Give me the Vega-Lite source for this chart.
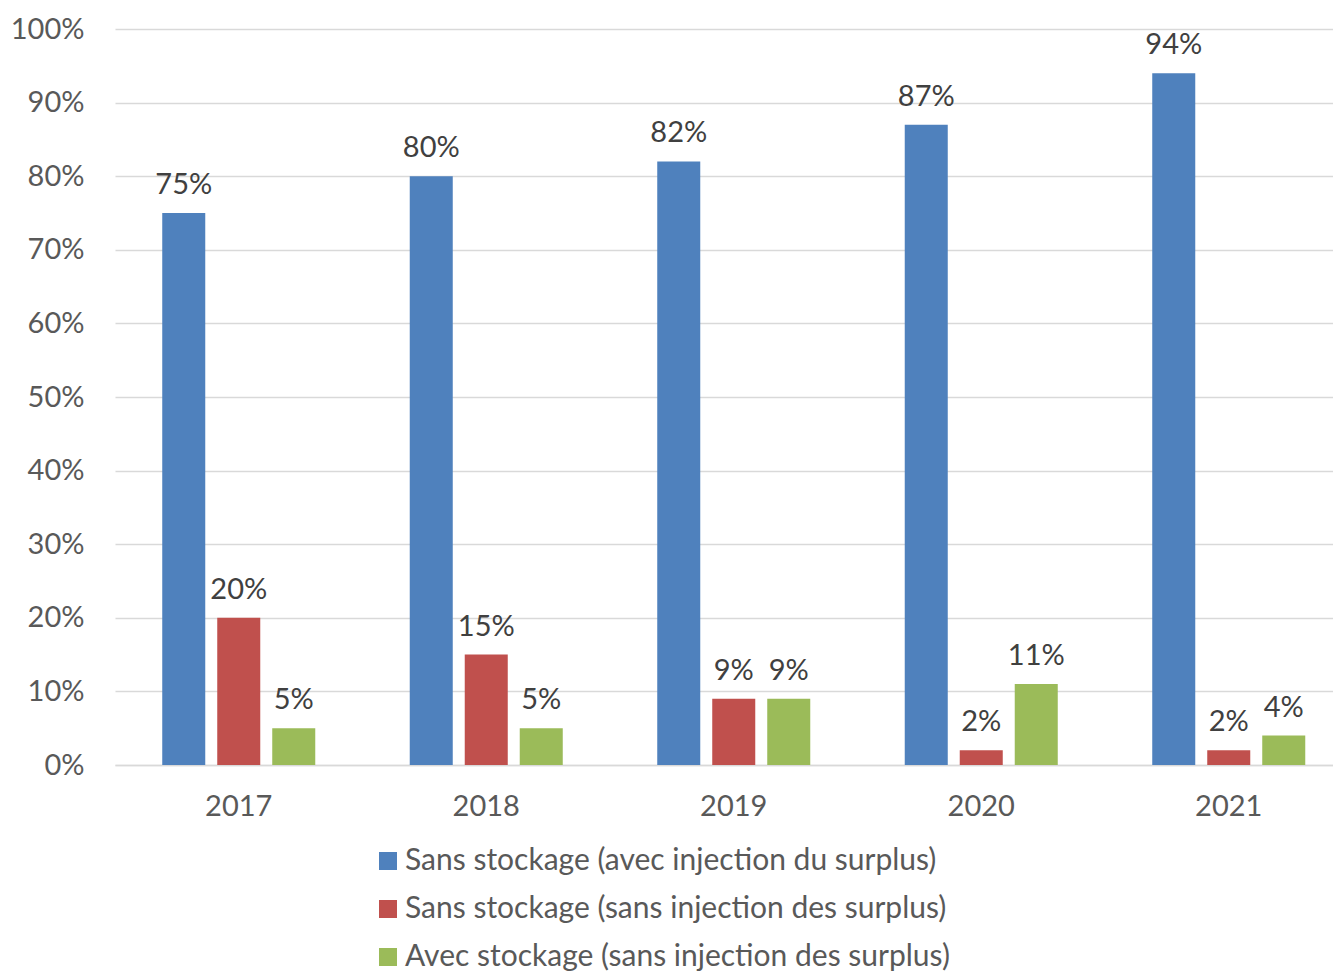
{
  "$schema": "https://vega.github.io/schema/vega-lite/v6.json",
  "width": 1218,
  "height": 736,
  "autosize": {"type": "none"},
  "padding": {"left": 115, "top": 29, "right": 0, "bottom": 210},
  "background": "white",
  "config": {
    "font": "Lato",
    "view": {"stroke": null}
  },
  "data": {
    "values": [
      {"annee": "2017", "serie": "Sans stockage (avec injection du surplus)", "valeur": 0.75},
      {"annee": "2017", "serie": "Sans stockage (sans injection des surplus)", "valeur": 0.20},
      {"annee": "2017", "serie": "Avec stockage (sans injection des surplus)", "valeur": 0.05},
      {"annee": "2018", "serie": "Sans stockage (avec injection du surplus)", "valeur": 0.80},
      {"annee": "2018", "serie": "Sans stockage (sans injection des surplus)", "valeur": 0.15},
      {"annee": "2018", "serie": "Avec stockage (sans injection des surplus)", "valeur": 0.05},
      {"annee": "2019", "serie": "Sans stockage (avec injection du surplus)", "valeur": 0.82},
      {"annee": "2019", "serie": "Sans stockage (sans injection des surplus)", "valeur": 0.09},
      {"annee": "2019", "serie": "Avec stockage (sans injection des surplus)", "valeur": 0.09},
      {"annee": "2020", "serie": "Sans stockage (avec injection du surplus)", "valeur": 0.87},
      {"annee": "2020", "serie": "Sans stockage (sans injection des surplus)", "valeur": 0.02},
      {"annee": "2020", "serie": "Avec stockage (sans injection des surplus)", "valeur": 0.11},
      {"annee": "2021", "serie": "Sans stockage (avec injection du surplus)", "valeur": 0.94},
      {"annee": "2021", "serie": "Sans stockage (sans injection des surplus)", "valeur": 0.02},
      {"annee": "2021", "serie": "Avec stockage (sans injection des surplus)", "valeur": 0.04}
    ]
  },
  "encoding": {
    "x": {
      "field": "annee",
      "type": "nominal",
      "scale": {"range": [0, 1237.5], "paddingInner": 0, "paddingOuter": 0},
      "axis": {
        "title": null,
        "labelAngle": 0,
        "labelFontSize": 29,
        "labelColor": "#595959",
        "labelPadding": 27,
        "ticks": false,
        "domainColor": "#D9D9D9",
        "domainWidth": 1.5
      }
    },
    "xOffset": {
      "field": "serie",
      "type": "nominal",
      "sort": null,
      "scale": {
        "domain": [
          "Sans stockage (avec injection du surplus)",
          "Sans stockage (sans injection des surplus)",
          "Avec stockage (sans injection des surplus)"
        ],
        "paddingInner": 0.218,
        "paddingOuter": 0.859
      }
    },
    "y": {
      "field": "valeur",
      "type": "quantitative",
      "scale": {"domain": [0, 1], "nice": false},
      "axis": {
        "title": null,
        "values": [0, 0.1, 0.2, 0.3, 0.4, 0.5, 0.6, 0.7, 0.8, 0.9, 1],
        "format": ".0%",
        "labelFontSize": 29,
        "labelColor": "#595959",
        "labelPadding": 31,
        "ticks": false,
        "domain": false,
        "gridColor": "#D9D9D9",
        "gridWidth": 1.5
      }
    }
  },
  "layer": [
    {
      "mark": {"type": "bar"},
      "encoding": {
        "color": {
          "field": "serie",
          "type": "nominal",
          "scale": {
            "domain": [
              "Sans stockage (avec injection du surplus)",
              "Sans stockage (sans injection des surplus)",
              "Avec stockage (sans injection des surplus)"
            ],
            "range": ["#4F81BD", "#C0504D", "#9BBB59"]
          },
          "legend": {
            "title": null,
            "orient": "none",
            "legendX": 258,
            "legendY": 817,
            "direction": "vertical",
            "symbolType": "square",
            "symbolSize": 324,
            "symbolStrokeWidth": 0,
            "symbolOpacity": 1,
            "labelFontSize": 30,
            "labelColor": "#595959",
            "labelOffset": 2,
            "labelLimit": 900,
            "rowPadding": 18,
            "padding": 0
          }
        }
      }
    },
    {
      "mark": {
        "type": "text",
        "baseline": "alphabetic",
        "dy": -19,
        "fontSize": 29,
        "color": "#404040"
      },
      "encoding": {
        "text": {"field": "valeur", "type": "quantitative", "format": ".0%"}
      }
    }
  ]
}
